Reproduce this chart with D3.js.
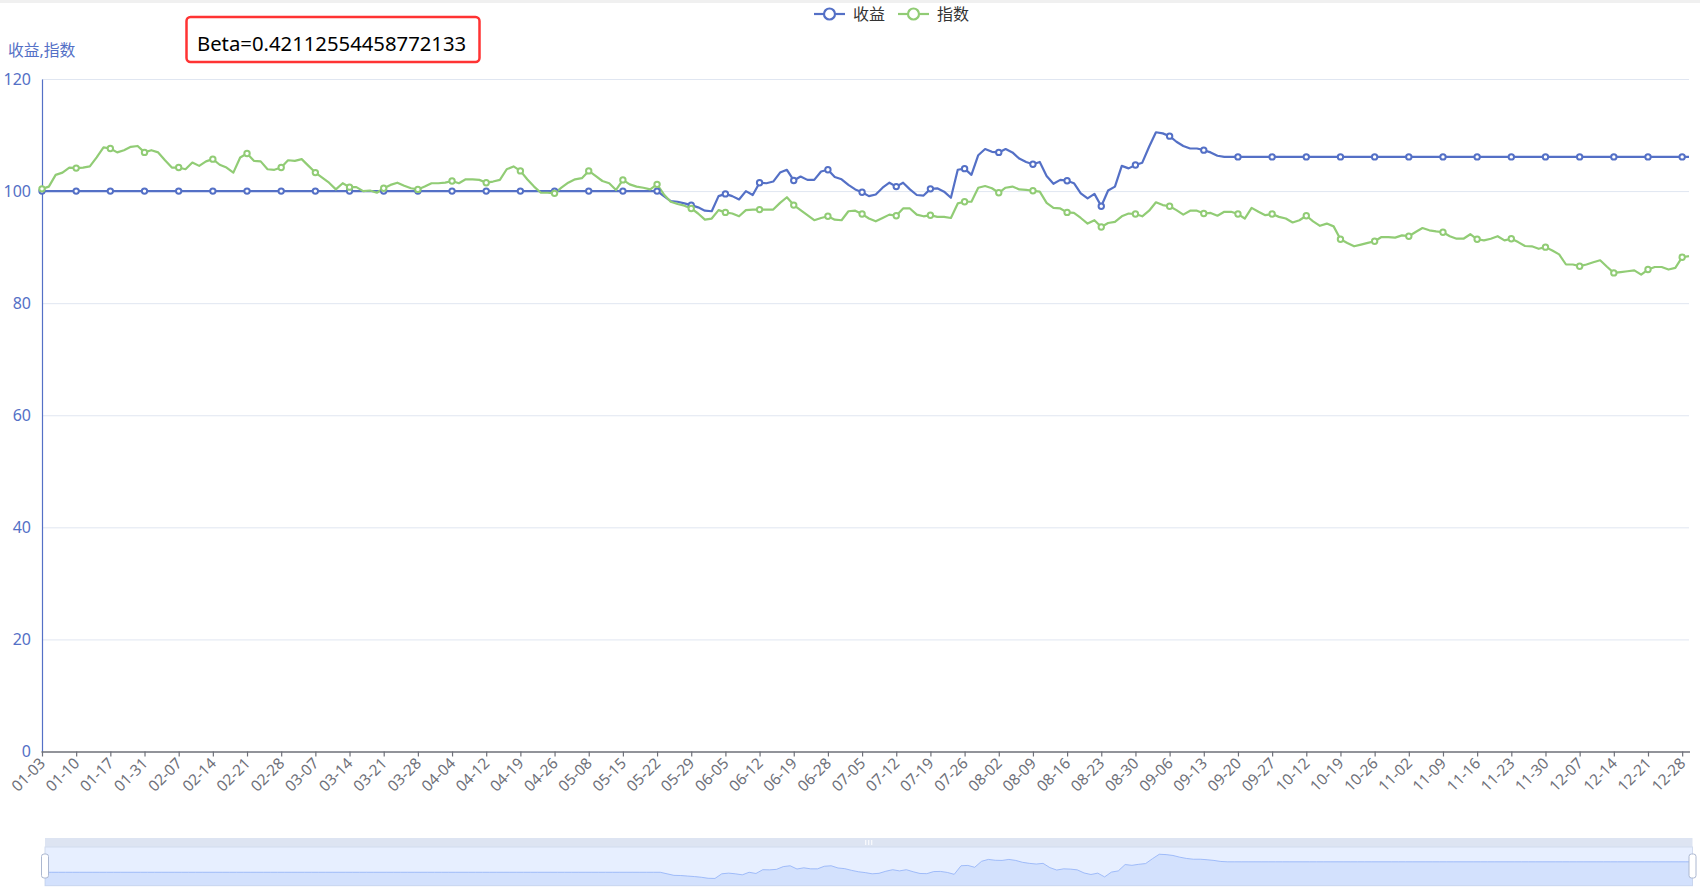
<!DOCTYPE html>
<html><head><meta charset="utf-8">
<script src="https://cdn.jsdelivr.net/npm/d3@7"></script>
<style>
body{margin:0;background:#fff;}
svg{display:block;font-family:"Noto Sans","Noto Sans CJK SC",sans-serif;}
</style>
</head><body><svg id="c" width="1700" height="890"></svg>
<script>
const dates = [
"01-03","01-04","01-05","01-06","01-09","01-10","01-11","01-12","01-13","01-16","01-17","01-18","01-19","01-20","01-30","01-31",
"02-01","02-02","02-03","02-06","02-07","02-08","02-09","02-10","02-13","02-14","02-15","02-16","02-17","02-20","02-21","02-22","02-23","02-24","02-27","02-28",
"03-01","03-02","03-03","03-06","03-07","03-08","03-09","03-10","03-13","03-14","03-15","03-16","03-17","03-20","03-21","03-22","03-23","03-24","03-27","03-28","03-29","03-30","03-31",
"04-03","04-04","04-06","04-07","04-10","04-11","04-12","04-13","04-14","04-17","04-18","04-19","04-20","04-21","04-24","04-25","04-26","04-27","04-28",
"05-04","05-05","05-08","05-09","05-10","05-11","05-12","05-15","05-16","05-17","05-18","05-19","05-22","05-23","05-24","05-25","05-26","05-29","05-30","05-31",
"06-01","06-02","06-05","06-06","06-07","06-08","06-09","06-12","06-13","06-14","06-15","06-16","06-19","06-20","06-21","06-26","06-27","06-28","06-29","06-30",
"07-03","07-04","07-05","07-06","07-07","07-10","07-11","07-12","07-13","07-14","07-17","07-18","07-19","07-20","07-21","07-24","07-25","07-26","07-27","07-28","07-31",
"08-01","08-02","08-03","08-04","08-07","08-08","08-09","08-10","08-11","08-14","08-15","08-16","08-17","08-18","08-21","08-22","08-23","08-24","08-25","08-28","08-29","08-30","08-31",
"09-01","09-04","09-05","09-06","09-07","09-08","09-11","09-12","09-13","09-14","09-15","09-18","09-19","09-20","09-21","09-22","09-25","09-26","09-27","09-28",
"10-09","10-10","10-11","10-12","10-13","10-16","10-17","10-18","10-19","10-20","10-23","10-24","10-25","10-26","10-27","10-30","10-31",
"11-01","11-02","11-03","11-06","11-07","11-08","11-09","11-10","11-13","11-14","11-15","11-16","11-17","11-20","11-21","11-22","11-23","11-24","11-27","11-28","11-29","11-30",
"12-01","12-04","12-05","12-06","12-07","12-08","12-11","12-12","12-13","12-14","12-15","12-18","12-19","12-20","12-21","12-22","12-25","12-26","12-27","12-28","12-29"
];

const returnsSeries = [
100,100,100,100,100,100,100,100,100,100,
100,100,100,100,100,100,100,100,100,100,
100,100,100,100,100,100,100,100,100,100,
100,100,100,100,100,100,100,100,100,100,
100,100,100,100,100,100,100,100,100,100,
100,100,100,100,100,100,100,100,100,100,
100,100,100,100,100,100,100,100,100,100,
100,100,100,100,100,100,100,100,100,100,
100,100,100,100,100,100,100,100,100,100,
100,99.1,98.2,98.1,97.8,97.5,97.1,96.5,96.4,99.1,
99.5,99.1,98.5,100.0,99.3,101.5,101.4,101.7,103.3,103.8,
101.9,102.6,102.0,102.0,103.5,103.8,102.5,102.1,101.1,100.3,
99.8,99.1,99.4,100.6,101.5,100.8,101.5,100.3,99.3,99.2,
100.4,100.5,99.9,98.8,103.8,104.0,102.9,106.4,107.5,107.0,
106.9,107.5,106.9,105.8,105.2,104.8,105.2,102.7,101.3,102.0,
101.85,101.4,99.6,98.7,99.5,97.3,100.1,100.8,104.5,104.05,
104.65,105.07,107.9,110.5,110.3,109.8,108.8,108.05,107.6,107.6,
107.3,106.9,106.3,106.1,106.1,106.1,106.1,106.1,106.1,106.1,
106.1,106.1,106.1,106.1,106.1,106.1,106.1,106.1,106.1,106.1,
106.1,106.1,106.1,106.1,106.1,106.1,106.1,106.1,106.1,106.1,
106.1,106.1,106.1,106.1,106.1,106.1,106.1,106.1,106.1,106.1,
106.1,106.1,106.1,106.1,106.1,106.1,106.1,106.1,106.1,106.1,
106.1,106.1,106.1,106.1,106.1,106.1,106.1,106.1,106.1,106.1,
106.1,106.1,106.1,106.1,106.1,106.1,106.1,106.1,106.1,106.1,
106.1,106.1
];

const indexSeries = [
100.4,100.8,102.9,103.3,104.2,104.1,104.2,104.4,106.0,107.8,
107.6,106.9,107.3,107.9,108.05,106.9,107.3,106.9,105.5,104.2,
104.2,103.9,105.1,104.5,105.3,105.7,104.7,104.2,103.3,106.0,
106.7,105.4,105.3,103.9,103.8,104.2,105.5,105.4,105.7,104.5,
103.3,102.4,101.5,100.3,101.4,100.7,100.7,100.0,100.1,99.7,
100.5,101.1,101.5,100.95,100.5,100.3,100.8,101.4,101.4,101.5,
101.8,101.4,102.1,102.1,102.0,101.5,101.7,102.0,103.9,104.4,
103.6,102.1,100.8,99.7,99.7,99.6,100.6,101.5,102.1,102.3,
103.6,102.7,101.8,101.4,100.2,102.0,101.2,100.8,100.6,100.3,
101.2,99.4,98.1,97.7,97.4,96.9,96.0,94.9,95.1,96.6,
96.2,96.0,95.5,96.6,96.7,96.7,96.7,96.7,97.9,98.9,
97.5,96.6,95.7,94.8,95.2,95.5,94.9,94.8,96.4,96.5,
95.9,95.1,94.6,95.2,95.8,95.6,96.9,96.9,95.8,95.5,
95.7,95.4,95.4,95.2,97.8,98.1,98.1,100.6,100.9,100.5,
99.7,100.6,100.8,100.3,100.2,100.06,99.9,97.9,97.0,96.9,
96.2,96.1,95.2,94.2,94.8,93.6,94.3,94.5,95.5,96.0,
95.9,95.5,96.5,98.0,97.5,97.3,96.6,95.8,96.5,96.5,
96.0,96.1,95.6,96.3,96.3,95.9,95.1,97.0,96.3,95.7,
95.9,95.4,95.1,94.4,94.8,95.6,94.6,93.8,94.2,93.7,
91.4,90.75,90.15,90.45,90.75,91.05,91.8,91.8,91.7,92.1,
91.95,92.7,93.4,93.0,92.8,92.65,91.95,91.5,91.5,92.3,
91.4,91.2,91.5,91.95,91.2,91.5,90.9,90.2,90.15,89.7,
90.0,89.4,88.7,86.9,86.9,86.6,86.9,87.3,87.65,86.5,
85.4,85.55,85.7,85.85,85.1,86.0,86.45,86.45,86.0,86.3,
88.2,88.4
];

const yTicks = [0, 20, 40, 60, 80, 100, 120];
const seriesNames = ["收益", "指数"];
const yAxisName = "收益,指数";
const betaText = "Beta=0.42112554458772133";

// ---------- layout ----------
const FONT = '"Noto Sans","Noto Sans CJK SC",sans-serif';
const svg = d3.select("#c");
const W = 1700, H = 890;
const gl = 42, gr = 1689, gt = 79, gb = 751.5;
const blue = "#5470c6", green = "#91cc75", axisGray = "#6E7079";

svg.append("rect").attr("x",0).attr("y",0).attr("width",W).attr("height",3).attr("fill","#f0f0f0");

const x = d3.scalePoint().domain(d3.range(dates.length)).range([gl, gr]);
const y = d3.scaleLinear().domain([0, 120]).range([gb, gt]);

// grid lines
svg.append("g").selectAll("line").data(yTicks.filter(d => d > 0)).join("line")
  .attr("x1", gl).attr("x2", gr)
  .attr("y1", d => y(d) + 0.5).attr("y2", d => y(d) + 0.5)
  .attr("stroke", "#E0E6F1").attr("stroke-width", 1);

// y axis
const yAxis = d3.axisLeft(y).tickValues(yTicks).tickSize(0).tickPadding(11).tickFormat(d3.format("d"));
const yg = svg.append("g").attr("transform", `translate(${gl},0)`).call(yAxis);
yg.select(".domain").attr("stroke", blue).attr("stroke-width", 1.2);
yg.selectAll("text").attr("fill", blue).attr("font-size", 16).attr("font-family", FONT);
svg.append("text").attr("x", 8).attr("y", 56).attr("fill", blue).attr("font-size", 15.8)
  .attr("font-family", FONT).text(yAxisName);

// x axis
const labelIdx = d3.range(dates.length).filter(i => i % 5 === 0);
const xAxis = d3.axisBottom(x).tickValues(labelIdx).tickSize(5).tickSizeOuter(0).tickFormat(i => dates[i]);
const xg = svg.append("g").attr("transform", `translate(0,${gb})`).call(xAxis);
xg.select(".domain").attr("stroke", axisGray).attr("stroke-width", 1.6)
  .attr("d", `M${gl - 0.5},0.5H${gr + 1}`);
xg.selectAll(".tick line").attr("stroke", axisGray).attr("stroke-width", 1.2);
xg.selectAll(".tick text")
  .attr("fill", axisGray).attr("font-size", 15.3).attr("font-family", FONT)
  .attr("text-anchor", "end").attr("dy", "0.35em").attr("y", 0)
  .attr("transform", "translate(0,9) rotate(-45)");

// series lines
const series = [
  {name: seriesNames[0], values: returnsSeries, color: blue},
  {name: seriesNames[1], values: indexSeries, color: green}
];
const line = d3.line().x((d, i) => x(i)).y(d => y(d));
series.forEach(s => {
  svg.append("path").datum(s.values).attr("d", line)
    .attr("fill", "none").attr("stroke", s.color).attr("stroke-width", 2.2)
    .attr("stroke-linejoin", "round");
});
series.forEach(s => {
  svg.append("g").selectAll("circle").data(labelIdx).join("circle")
    .attr("cx", i => x(i)).attr("cy", i => y(s.values[i])).attr("r", 2.7)
    .attr("fill", "#fff").attr("stroke", s.color).attr("stroke-width", 2);
});

// legend
const legendItems = [{x: 814, tx: 853}, {x: 898, tx: 937}];
series.forEach((s, k) => {
  const g = svg.append("g");
  const lx = legendItems[k].x;
  g.append("line").attr("x1", lx).attr("x2", lx + 31).attr("y1", 14).attr("y2", 14)
    .attr("stroke", s.color).attr("stroke-width", 2.2);
  g.append("circle").attr("cx", lx + 15.5).attr("cy", 14).attr("r", 5.5)
    .attr("fill", "#fff").attr("stroke", s.color).attr("stroke-width", 2.2);
  g.append("text").attr("x", legendItems[k].tx).attr("y", 14).attr("dy", "0.35em")
    .attr("font-size", 16).attr("fill", "#333").attr("font-family", FONT).text(s.name);
});

// Beta box
svg.append("rect").attr("x", 186.5).attr("y", 17).attr("width", 293).attr("height", 45)
  .attr("rx", 4).attr("fill", "#fff").attr("stroke", "#f33").attr("stroke-width", 2.5);
svg.append("text").attr("x", 197).attr("y", 51).attr("font-size", 20.3).attr("fill", "#000")
  .attr("font-family", FONT).text(betaText);

// dataZoom slider
const sl = 45, sr = 1692.5, st = 847, sb = 885.7;
svg.append("rect").attr("x", sl).attr("y", 838).attr("width", sr - sl).attr("height", st - 838)
  .attr("fill", "#D2DBEE").attr("opacity", 0.75);
svg.append("rect").attr("x", sl).attr("y", st).attr("width", sr - sl).attr("height", sb - st)
  .attr("fill", "rgba(135,175,255,0.2)").attr("stroke", "#d2dbee").attr("stroke-width", 1);
const ext = d3.extent(returnsSeries);
const pad = (ext[1] - ext[0]) * 0.3;
const sx = d3.scalePoint().domain(d3.range(dates.length)).range([sl, sr]);
const sy = d3.scaleLinear().domain([ext[0] - pad, ext[1] + pad]).range([sb, st]);
const area = d3.area().x((d, i) => sx(i)).y0(sb).y1(d => sy(d));
svg.append("path").datum(returnsSeries).attr("d", area)
  .attr("fill", "#8fb0f7").attr("fill-opacity", 0.22);
svg.append("path").datum(returnsSeries).attr("d", d3.line().x((d, i) => sx(i)).y(d => sy(d)))
  .attr("fill", "none").attr("stroke", "#8fb0f7").attr("stroke-width", 0.8);
// move-handle grip
[-3, 0, 3].forEach(o => {
  svg.append("line").attr("x1", (sl + sr) / 2 + o).attr("x2", (sl + sr) / 2 + o)
    .attr("y1", 840).attr("y2", 845).attr("stroke", "#fff").attr("stroke-width", 1);
});
// handles
[sl, sr].forEach(hx => {
  svg.append("rect").attr("x", hx - 3.5).attr("y", 854).attr("width", 7).attr("height", 24)
    .attr("rx", 2.5).attr("fill", "#fff").attr("stroke", "#ACB8D1").attr("stroke-width", 1);
});
</script>
</body></html>
